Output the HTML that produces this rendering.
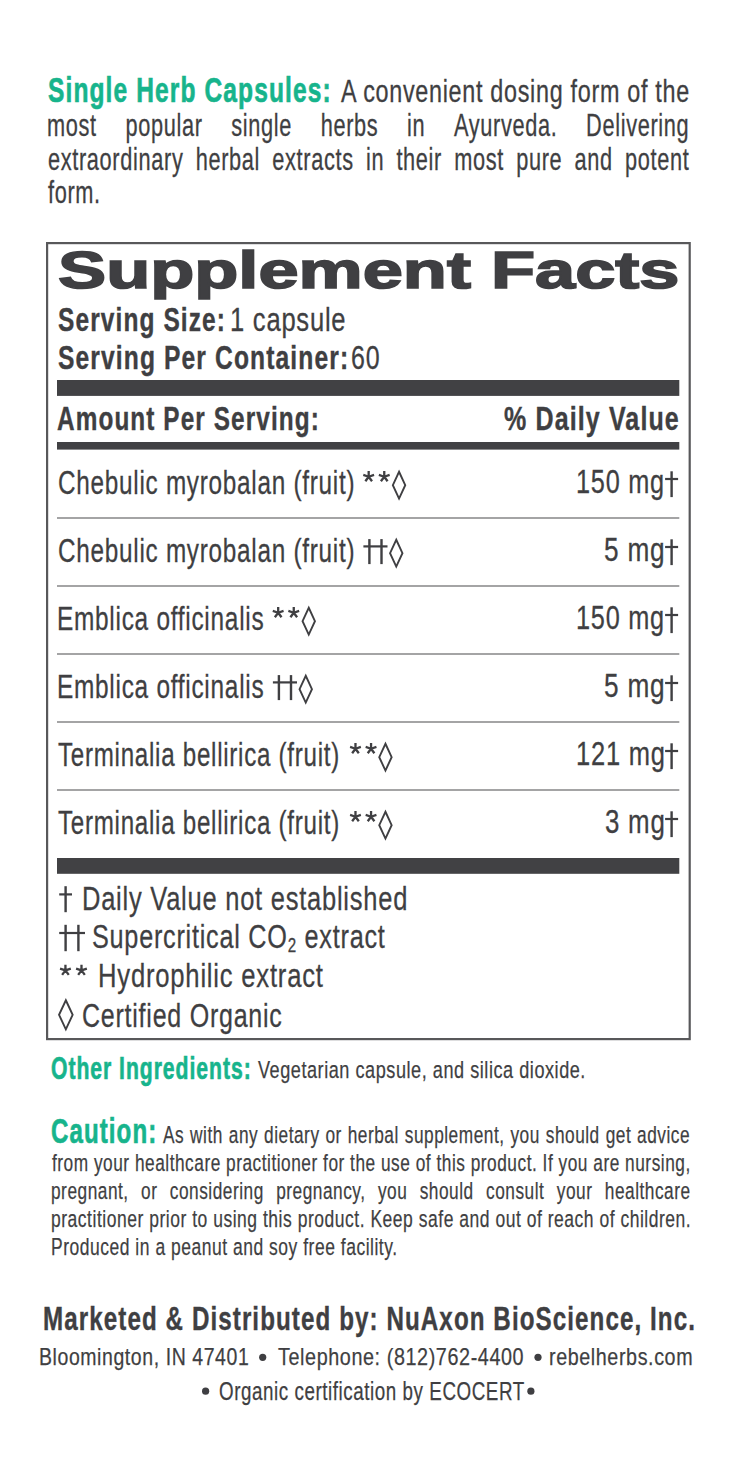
<!DOCTYPE html>
<html><head><meta charset="utf-8">
<style>
html,body{margin:0;padding:0;background:#fff;}
body{width:739px;height:1476px;position:relative;overflow:hidden;font-family:"Liberation Sans",sans-serif;}
.t{position:absolute;white-space:nowrap;line-height:1;transform-origin:0 0;}
.j{display:flex;justify-content:space-between;}
svg{position:absolute;left:0;top:0;}
</style></head><body>
<svg width="739" height="1476" viewBox="0 0 739 1476">
<rect x="47.1" y="243.1" width="642.6" height="796" fill="none" stroke="#58585a" stroke-width="2.2"/>
<g fill="#414144">
<rect x="57" y="380" width="622.3" height="15.9"/>
<rect x="57" y="442" width="622.3" height="7.6"/>
<rect x="57" y="858" width="622.3" height="15.8"/>
</g>
<g fill="#69696b">
<rect x="57" y="517.4" width="622.3" height="1.2"/>
<rect x="57" y="585.4" width="622.3" height="1.2"/>
<rect x="57" y="653.4" width="622.3" height="1.2"/>
<rect x="57" y="721.4" width="622.3" height="1.2"/>
<rect x="57" y="789.4" width="622.3" height="1.2"/>
</g>
<g fill="#3f3f42">
<path d="M368.68 476.72L368.68 471.05M368.68 476.72L374.07 474.96M368.68 476.72L372.01 481.30M368.68 476.72L365.35 481.30M368.68 476.72L363.29 474.96" fill="none" stroke="#3f3f42" stroke-width="2.3" stroke-linecap="butt"/>
<path d="M384.26 476.72L384.26 471.05M384.26 476.72L389.65 474.96M384.26 476.72L387.59 481.30M384.26 476.72L380.92 481.30M384.26 476.72L378.86 474.96" fill="none" stroke="#3f3f42" stroke-width="2.3" stroke-linecap="butt"/>
<path d="M399.05 471.76L405.25 485.15L399.05 498.54L392.85 485.15Z" fill="none" stroke="#3f3f42" stroke-width="1.9" stroke-linejoin="miter" stroke-miterlimit="10"/>
<rect x="670.40" y="471.30" width="2.4" height="25.80"/>
<rect x="665.10" y="477.90" width="13.00" height="2.2"/>
<rect x="368.20" y="539.10" width="2.4" height="25.00"/>
<rect x="380.30" y="539.10" width="2.4" height="25.00"/>
<rect x="363.40" y="545.30" width="24.10" height="2.2"/>
<path d="M396.25 539.76L402.45 553.15L396.25 566.54L390.05 553.15Z" fill="none" stroke="#3f3f42" stroke-width="1.9" stroke-linejoin="miter" stroke-miterlimit="10"/>
<rect x="670.40" y="539.30" width="2.4" height="25.80"/>
<rect x="665.10" y="545.90" width="13.00" height="2.2"/>
<path d="M278.18 612.72L278.18 607.05M278.18 612.72L283.57 610.96M278.18 612.72L281.51 617.30M278.18 612.72L274.85 617.30M278.18 612.72L272.79 610.96" fill="none" stroke="#3f3f42" stroke-width="2.3" stroke-linecap="butt"/>
<path d="M293.76 612.72L293.76 607.05M293.76 612.72L299.15 610.96M293.76 612.72L297.09 617.30M293.76 612.72L290.42 617.30M293.76 612.72L288.36 610.96" fill="none" stroke="#3f3f42" stroke-width="2.3" stroke-linecap="butt"/>
<path d="M308.75 607.76L314.95 621.15L308.75 634.54L302.55 621.15Z" fill="none" stroke="#3f3f42" stroke-width="1.9" stroke-linejoin="miter" stroke-miterlimit="10"/>
<rect x="670.40" y="607.30" width="2.4" height="25.80"/>
<rect x="665.10" y="613.90" width="13.00" height="2.2"/>
<rect x="277.70" y="675.10" width="2.4" height="25.00"/>
<rect x="289.80" y="675.10" width="2.4" height="25.00"/>
<rect x="272.90" y="681.30" width="24.10" height="2.2"/>
<path d="M305.75 675.76L311.95 689.15L305.75 702.54L299.55 689.15Z" fill="none" stroke="#3f3f42" stroke-width="1.9" stroke-linejoin="miter" stroke-miterlimit="10"/>
<rect x="670.40" y="675.30" width="2.4" height="25.80"/>
<rect x="665.10" y="681.90" width="13.00" height="2.2"/>
<path d="M355.48 748.72L355.48 743.05M355.48 748.72L360.87 746.96M355.48 748.72L358.81 753.30M355.48 748.72L352.15 753.30M355.48 748.72L350.09 746.96" fill="none" stroke="#3f3f42" stroke-width="2.3" stroke-linecap="butt"/>
<path d="M371.06 748.72L371.06 743.05M371.06 748.72L376.45 746.96M371.06 748.72L374.39 753.30M371.06 748.72L367.72 753.30M371.06 748.72L365.66 746.96" fill="none" stroke="#3f3f42" stroke-width="2.3" stroke-linecap="butt"/>
<path d="M385.45 743.76L391.65 757.15L385.45 770.54L379.25 757.15Z" fill="none" stroke="#3f3f42" stroke-width="1.9" stroke-linejoin="miter" stroke-miterlimit="10"/>
<rect x="670.40" y="743.30" width="2.4" height="25.80"/>
<rect x="665.10" y="749.90" width="13.00" height="2.2"/>
<path d="M355.48 816.72L355.48 811.05M355.48 816.72L360.87 814.96M355.48 816.72L358.81 821.30M355.48 816.72L352.15 821.30M355.48 816.72L350.09 814.96" fill="none" stroke="#3f3f42" stroke-width="2.3" stroke-linecap="butt"/>
<path d="M371.06 816.72L371.06 811.05M371.06 816.72L376.45 814.96M371.06 816.72L374.39 821.30M371.06 816.72L367.72 821.30M371.06 816.72L365.66 814.96" fill="none" stroke="#3f3f42" stroke-width="2.3" stroke-linecap="butt"/>
<path d="M385.45 811.76L391.65 825.15L385.45 838.54L379.25 825.15Z" fill="none" stroke="#3f3f42" stroke-width="1.9" stroke-linejoin="miter" stroke-miterlimit="10"/>
<rect x="670.40" y="811.30" width="2.4" height="25.80"/>
<rect x="665.10" y="817.90" width="13.00" height="2.2"/>
<rect x="64.40" y="886.20" width="2.4" height="26.00"/>
<rect x="59.20" y="893.30" width="12.80" height="2.2"/>
<rect x="64.40" y="924.80" width="2.4" height="26.40"/>
<rect x="77.20" y="924.80" width="2.4" height="26.40"/>
<rect x="59.20" y="931.90" width="25.80" height="2.2"/>
<path d="M65.44 970.32L65.44 964.65M65.44 970.32L70.83 968.56M65.44 970.32L68.77 974.90M65.44 970.32L62.11 974.90M65.44 970.32L60.05 968.56" fill="none" stroke="#3f3f42" stroke-width="2.3" stroke-linecap="butt"/>
<path d="M81.49 970.32L81.49 964.65M81.49 970.32L86.88 968.56M81.49 970.32L84.82 974.90M81.49 970.32L78.16 974.90M81.49 970.32L76.10 968.56" fill="none" stroke="#3f3f42" stroke-width="2.3" stroke-linecap="butt"/>
<path d="M65.85 1000.24L72.65 1014.80L65.85 1029.36L59.05 1014.80Z" fill="none" stroke="#3f3f42" stroke-width="1.9" stroke-linejoin="miter" stroke-miterlimit="10"/>
<circle cx="262.7" cy="1357.3" r="3.6"/>
<circle cx="538.0" cy="1357.3" r="3.6"/>
<circle cx="205.6" cy="1391.2" r="3.6"/>
<circle cx="530.9" cy="1391.2" r="3.6"/>
</g>
</svg>
<div class="t" style="left:47.80px;top:72.65px;font-size:34.88px;color:#17b48c;transform:scaleX(0.7040);font-weight:bold;-webkit-text-stroke:0.65px #17b48c;letter-spacing:0.045em;">Single Herb Capsules:</div>
<div class="t" style="left:341.00px;top:76.35px;font-size:30.52px;color:#3f3f42;transform:scaleX(0.7654);-webkit-text-stroke:0.3px #3f3f42;letter-spacing:0.03em;">A convenient dosing form of the</div>
<div class="t" style="left:48.29px;top:143.55px;font-size:30.52px;color:#3f3f42;transform:scaleX(0.7128);visibility:hidden;-webkit-text-stroke:0.3px #3f3f42;letter-spacing:0.03em;">extraordinary</div>
<div class="t j" style="left:47.47px;top:109.65px;font-size:30.52px;color:#3f3f42;transform:scaleX(0.7128);-webkit-text-stroke:0.3px #3f3f42;letter-spacing:0.03em;width:901.15px;"><span>most</span><span>popular</span><span>single</span><span>herbs</span><span>in</span><span>Ayurveda.</span><span>Delivering</span></div>
<div class="t j" style="left:48.29px;top:143.55px;font-size:30.52px;color:#3f3f42;transform:scaleX(0.7128);-webkit-text-stroke:0.3px #3f3f42;letter-spacing:0.03em;width:900.01px;"><span>extraordinary</span><span>herbal</span><span>extracts</span><span>in</span><span>their</span><span>most</span><span>pure</span><span>and</span><span>potent</span></div>
<div class="t" style="left:48.00px;top:176.65px;font-size:30.52px;color:#3f3f42;transform:scaleX(0.7128);-webkit-text-stroke:0.3px #3f3f42;letter-spacing:0.03em;">form.</div>
<div class="t" style="left:58.10px;top:244.64px;font-size:51.60px;color:#3f3f42;transform:scaleX(1.3986);font-weight:bold;-webkit-text-stroke:1.6px #3f3f42;">Supplement Facts</div>
<div class="t" style="left:58.25px;top:303.50px;font-size:32.70px;color:#3f3f42;transform:scaleX(0.7489);font-weight:bold;-webkit-text-stroke:0.4px #3f3f42;letter-spacing:0.045em;">Serving Size:</div>
<div class="t" style="left:230.44px;top:303.50px;font-size:32.70px;color:#3f3f42;transform:scaleX(0.7819);-webkit-text-stroke:0.3px #3f3f42;letter-spacing:0.03em;">1 capsule</div>
<div class="t" style="left:58.25px;top:342.00px;font-size:32.70px;color:#3f3f42;transform:scaleX(0.7533);font-weight:bold;-webkit-text-stroke:0.4px #3f3f42;letter-spacing:0.045em;">Serving Per Container:</div>
<div class="t" style="left:351.47px;top:342.00px;font-size:32.70px;color:#3f3f42;transform:scaleX(0.7647);-webkit-text-stroke:0.3px #3f3f42;letter-spacing:0.03em;">60</div>
<div class="t" style="left:57.48px;top:402.31px;font-size:33.87px;color:#3f3f42;transform:scaleX(0.7189);font-weight:bold;-webkit-text-stroke:0.4px #3f3f42;letter-spacing:0.045em;">Amount Per Serving:</div>
<div class="t" style="left:504.06px;top:402.31px;font-size:33.87px;color:#3f3f42;transform:scaleX(0.7387);font-weight:bold;-webkit-text-stroke:0.4px #3f3f42;letter-spacing:0.045em;">% Daily Value</div>
<div class="t" style="left:57.51px;top:466.73px;font-size:32.56px;color:#3f3f42;transform:scaleX(0.7468);-webkit-text-stroke:0.3px #3f3f42;letter-spacing:0.03em;">Chebulic myrobalan (fruit)</div>
<div class="t" style="left:576.46px;top:466.48px;font-size:32.85px;color:#3f3f42;transform:scaleX(0.7703);-webkit-text-stroke:0.3px #3f3f42;letter-spacing:0.03em;">150 mg</div>
<div class="t" style="left:57.51px;top:534.73px;font-size:32.56px;color:#3f3f42;transform:scaleX(0.7468);-webkit-text-stroke:0.3px #3f3f42;letter-spacing:0.03em;">Chebulic myrobalan (fruit)</div>
<div class="t" style="left:604.40px;top:534.48px;font-size:32.85px;color:#3f3f42;transform:scaleX(0.7986);-webkit-text-stroke:0.3px #3f3f42;letter-spacing:0.03em;">5 mg</div>
<div class="t" style="left:56.75px;top:602.73px;font-size:32.56px;color:#3f3f42;transform:scaleX(0.7496);-webkit-text-stroke:0.3px #3f3f42;letter-spacing:0.03em;">Emblica officinalis</div>
<div class="t" style="left:576.46px;top:602.48px;font-size:32.85px;color:#3f3f42;transform:scaleX(0.7703);-webkit-text-stroke:0.3px #3f3f42;letter-spacing:0.03em;">150 mg</div>
<div class="t" style="left:56.75px;top:670.73px;font-size:32.56px;color:#3f3f42;transform:scaleX(0.7496);-webkit-text-stroke:0.3px #3f3f42;letter-spacing:0.03em;">Emblica officinalis</div>
<div class="t" style="left:604.40px;top:670.48px;font-size:32.85px;color:#3f3f42;transform:scaleX(0.7986);-webkit-text-stroke:0.3px #3f3f42;letter-spacing:0.03em;">5 mg</div>
<div class="t" style="left:58.26px;top:738.73px;font-size:32.56px;color:#3f3f42;transform:scaleX(0.7420);-webkit-text-stroke:0.3px #3f3f42;letter-spacing:0.03em;">Terminalia bellirica (fruit)</div>
<div class="t" style="left:575.75px;top:738.48px;font-size:32.85px;color:#3f3f42;transform:scaleX(0.7766);-webkit-text-stroke:0.3px #3f3f42;letter-spacing:0.03em;">121 mg</div>
<div class="t" style="left:58.26px;top:806.73px;font-size:32.56px;color:#3f3f42;transform:scaleX(0.7420);-webkit-text-stroke:0.3px #3f3f42;letter-spacing:0.03em;">Terminalia bellirica (fruit)</div>
<div class="t" style="left:605.21px;top:806.48px;font-size:32.85px;color:#3f3f42;transform:scaleX(0.7877);-webkit-text-stroke:0.3px #3f3f42;letter-spacing:0.03em;">3 mg</div>
<div class="t" style="left:81.53px;top:881.54px;font-size:33.72px;color:#3f3f42;transform:scaleX(0.7556);-webkit-text-stroke:0.3px #3f3f42;letter-spacing:0.03em;">Daily Value not established</div>
<div class="t" style="left:91.50px;top:920.04px;font-size:33.72px;color:#3f3f42;transform:scaleX(0.7477);-webkit-text-stroke:0.3px #3f3f42;letter-spacing:0.03em;">Supercritical CO<span style="font-size:60%;position:relative;top:3.5px">2</span> extract</div>
<div class="t" style="left:97.72px;top:958.54px;font-size:33.72px;color:#3f3f42;transform:scaleX(0.7611);-webkit-text-stroke:0.3px #3f3f42;letter-spacing:0.03em;">Hydrophilic extract</div>
<div class="t" style="left:81.72px;top:999.34px;font-size:33.72px;color:#3f3f42;transform:scaleX(0.7425);-webkit-text-stroke:0.3px #3f3f42;letter-spacing:0.03em;">Certified Organic</div>
<div class="t" style="left:51.31px;top:1053.05px;font-size:30.52px;color:#17b48c;transform:scaleX(0.6937);font-weight:bold;-webkit-text-stroke:0.65px #17b48c;letter-spacing:0.045em;">Other Ingredients:</div>
<div class="t" style="left:257.50px;top:1058.00px;font-size:24.71px;color:#3f3f42;transform:scaleX(0.7324);-webkit-text-stroke:0.25px #3f3f42;letter-spacing:0.03em;">Vegetarian capsule, and silica dioxide.</div>
<div class="t" style="left:50.81px;top:1114.35px;font-size:34.88px;color:#17b48c;transform:scaleX(0.6905);font-weight:bold;-webkit-text-stroke:0.65px #17b48c;letter-spacing:0.045em;">Caution:</div>
<div class="t" style="left:52.00px;top:1150.50px;font-size:24.71px;color:#3f3f42;transform:scaleX(0.6992);-webkit-text-stroke:0.25px #3f3f42;letter-spacing:0.03em;">from your healthcare practitioner for the use of this product. If you are nursing,</div>
<div class="t j" style="left:163.00px;top:1122.50px;font-size:24.71px;color:#3f3f42;transform:scaleX(0.6992);-webkit-text-stroke:0.25px #3f3f42;letter-spacing:0.03em;width:754.05px;"><span>As</span><span>with</span><span>any</span><span>dietary</span><span>or</span><span>herbal</span><span>supplement,</span><span>you</span><span>should</span><span>get</span><span>advice</span></div>
<div class="t j" style="left:50.60px;top:1178.70px;font-size:24.71px;color:#3f3f42;transform:scaleX(0.6992);-webkit-text-stroke:0.25px #3f3f42;letter-spacing:0.03em;width:914.80px;"><span>pregnant,</span><span>or</span><span>considering</span><span>pregnancy,</span><span>you</span><span>should</span><span>consult</span><span>your</span><span>healthcare</span></div>
<div class="t" style="left:50.58px;top:1206.70px;font-size:24.71px;color:#3f3f42;transform:scaleX(0.7078);-webkit-text-stroke:0.25px #3f3f42;letter-spacing:0.03em;">practitioner prior to using this product. Keep safe and out of reach of children.</div>
<div class="t" style="left:50.59px;top:1234.50px;font-size:24.71px;color:#3f3f42;transform:scaleX(0.7072);-webkit-text-stroke:0.25px #3f3f42;letter-spacing:0.03em;">Produced in a peanut and soy free facility.</div>
<div class="t" style="left:42.78px;top:1301.09px;font-size:34.01px;color:#3f3f42;transform:scaleX(0.7105);font-weight:bold;-webkit-text-stroke:0.4px #3f3f42;letter-spacing:0.045em;">Marketed &amp; Distributed by: NuAxon BioScience, Inc.</div>
<div class="t" style="left:38.52px;top:1344.60px;font-size:24.71px;color:#3f3f42;transform:scaleX(0.7882);-webkit-text-stroke:0.25px #3f3f42;letter-spacing:0.03em;">Bloomington, IN 47401</div>
<div class="t" style="left:278.10px;top:1344.60px;font-size:24.71px;color:#3f3f42;transform:scaleX(0.8003);-webkit-text-stroke:0.25px #3f3f42;letter-spacing:0.03em;">Telephone: (812)762-4400</div>
<div class="t" style="left:549.40px;top:1344.60px;font-size:24.71px;color:#3f3f42;transform:scaleX(0.7983);-webkit-text-stroke:0.25px #3f3f42;letter-spacing:0.03em;">rebelherbs.com</div>
<div class="t" style="left:218.75px;top:1378.63px;font-size:25.15px;color:#3f3f42;transform:scaleX(0.7469);-webkit-text-stroke:0.25px #3f3f42;letter-spacing:0.03em;">Organic certification by ECOCERT</div>
</body></html>
